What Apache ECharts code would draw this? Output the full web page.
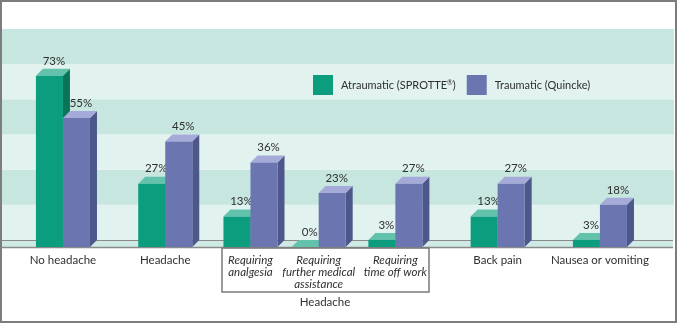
<!DOCTYPE html>
<html>
<head>
<meta charset="utf-8">
<script src="https://cdn.jsdelivr.net/npm/echarts@6/dist/echarts.min.js"></script>
<style>
html,body{margin:0;padding:0;background:#fff;}
#main{width:678px;height:324px;}
</style>
</head>
<body>
<div id="main"></div>
<script>
// ---- data ----
const categories = ['No headache', 'Headache', 'Requiring\nanalgesia', 'Requiring\nfurther medical\nassistance', 'Requiring\ntime off work', 'Back pain', 'Nausea or vomiting'];
const italicCats = [false, false, true, true, true, false, false];
const atraumatic = [73, 27, 13, 0, 3, 13, 3];
const traumatic = [55, 45, 36, 23, 27, 27, 18];
const seriesNames = ['Atraumatic (SPROTTE®)', 'Traumatic (Quincke)'];
const groupLabel = 'Headache';

// ---- layout (spacer slots on the category axis) ----
const slotOf = [0, 12, 22, 30, 39, 51, 63];
const nSlots = 64;
const axisCats = [];
for (let i = 0; i < nSlots; i++) axisCats.push('');
slotOf.forEach((s, k) => { axisCats[s] = categories[k]; });
const italicSet = {};
slotOf.forEach((s, k) => { if (italicCats[k]) italicSet[categories[k]] = true; });

const FONT = 'Lato';
const green = { front: '#0b9d7e', top: '#63c2ab', side: '#0a7458' };
const purple = { front: '#6b76b1', top: '#a5aad8', side: '#4d578c' };

function makeRender(side, col) {
  return function (params, api) {
    const idx = api.value(0), val = api.value(1);
    const base = api.coord([idx, 0]);
    const top = api.coord([idx, val]);
    const band = api.size([1, 0])[0];
    const w = band * 3.17;
    const d = 7;
    const x0 = side < 0 ? base[0] - w : base[0];
    const x1 = x0 + w;
    const yb = base[1], yt = top[1];
    const children = [
      { type: 'polygon', shape: { points: [[x1, yt], [x1 + d, yt - d], [x1 + d, yb - d], [x1, yb]] }, style: { fill: col.side } },
      { type: 'polygon', shape: { points: [[x0, yt], [x0 + d, yt - d], [x1 + d, yt - d], [x1, yt]] }, style: { fill: col.top } },
      { type: 'rect', shape: { x: x0, y: yt, width: w, height: yb - yt }, style: { fill: col.front } },
      { type: 'text', style: { text: val + '%', x: (x0 + x1) / 2 + d / 2 + 1, y: yt - d - 2, align: 'center', verticalAlign: 'bottom', fill: '#2f2f2f', font: '11.5px ' + FONT } }
    ];
    return { type: 'group', children: children };
  };
}

const chart = echarts.init(document.getElementById('main'), null, { renderer: 'canvas' });
chart.setOption({
  animation: false,
  backgroundColor: '#ffffff',
  textStyle: { fontFamily: FONT },
  grid: [
    { left: 2, right: 4, top: 29, bottom: 84 },
    { left: 58.7, right: 73.8, top: 36, bottom: 77 }
  ],
  xAxis: [
    { gridIndex: 0, type: 'category', data: ['a'], axisLine: { show: false }, axisTick: { show: false }, axisLabel: { show: false } },
    {
      gridIndex: 1, type: 'category', data: axisCats,
      axisLine: { show: false }, axisTick: { show: false },
      axisLabel: {
        interval: 0, margin: 7, color: '#2f2f2f',
        formatter: function (v) { return v ? (italicSet[v] ? '{i|' + v.split('\n').join('}\n{i|') + '}' : '{n|' + v + '}') : ''; },
        rich: {
          n: { fontFamily: FONT, fontSize: 11.5, color: '#2f2f2f', lineHeight: 12 },
          i: { fontFamily: FONT, fontSize: 11.5, fontStyle: 'italic', color: '#2f2f2f', lineHeight: 12 }
        }
      }
    }
  ],
  yAxis: [
    {
      gridIndex: 0, type: 'value', min: 0, max: 90, interval: 15,
      axisLine: { show: false }, axisTick: { show: false }, axisLabel: { show: false },
      splitLine: { show: false },
      splitArea: { show: true, areaStyle: { color: ['#e2f2ef', '#c6e6df'] } }
    },
    {
      gridIndex: 1, type: 'value', min: 0, max: 90, interval: 15,
      axisLine: { show: false }, axisTick: { show: false }, axisLabel: { show: false },
      splitLine: { show: false }
    }
  ],
  legend: {
    left: 308, top: 70, icon: 'rect', itemWidth: 20, itemHeight: 20, itemGap: 11,
    textStyle: {
      fontFamily: FONT, fontSize: 11, color: '#2f2f2f', padding: [0, 0, 0, 3],
      rich: {
        a: { fontFamily: FONT, fontSize: 11, color: '#2f2f2f' },
        s: { fontFamily: FONT, fontSize: 7, color: '#2f2f2f', padding: [0, 0, 5, 0] }
      }
    },
    formatter: function (name) {
      const p = name.split('®');
      return p.length > 1 ? '{a|' + p[0] + '}{s|®}{a|' + p[1] + '}' : '{a|' + name + '}';
    },
    data: seriesNames
  },
  graphic: [
    { type: 'rect', z: 1, shape: { x: 2, y: 240, width: 671, height: 7 }, style: { fill: '#cfeae4' } },
    { type: 'line', z: 1, shape: { x1: 2, y1: 240.5, x2: 673, y2: 240.5 }, style: { stroke: '#8a8a8a', lineWidth: 1 } },
    { type: 'line', z: 1, shape: { x1: 2, y1: 247.5, x2: 673, y2: 247.5 }, style: { stroke: '#8a8a8a', lineWidth: 1.5 } },
    { type: 'rect', z: 1, shape: { x: 222, y: 248, width: 207, height: 44 }, style: { fill: 'none', stroke: '#7a7a7a', lineWidth: 1.5 } },
    { type: 'text', z: 1, style: { text: groupLabel, x: 325, y: 302, align: 'center', verticalAlign: 'middle', fill: '#2f2f2f', font: '11.5px ' + FONT } },
    { type: 'rect', z: 10, shape: { x: 1, y: 1, width: 675, height: 321 }, style: { fill: 'none', stroke: '#7d7d7d', lineWidth: 2 } }
  ],
  series: [
    {
      name: seriesNames[0], type: 'custom', xAxisIndex: 1, yAxisIndex: 1, z: 2,
      itemStyle: { color: green.front },
      renderItem: makeRender(-1, green),
      encode: { x: 0, y: 1 },
      data: atraumatic.map((v, k) => [slotOf[k], v])
    },
    {
      name: seriesNames[1], type: 'custom', xAxisIndex: 1, yAxisIndex: 1, z: 3,
      itemStyle: { color: purple.front },
      renderItem: makeRender(1, purple),
      encode: { x: 0, y: 1 },
      data: traumatic.map((v, k) => [slotOf[k], v])
    }
  ]
});
</script>
</body>
</html>
